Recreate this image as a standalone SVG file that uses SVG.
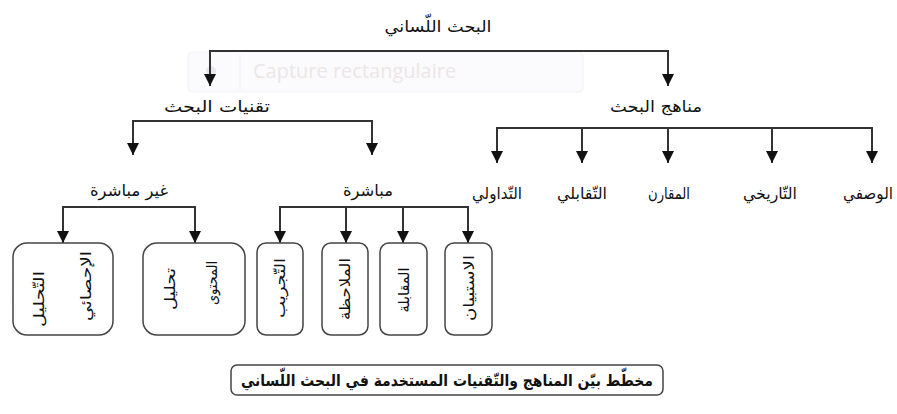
<svg xmlns="http://www.w3.org/2000/svg" width="897" height="414" viewBox="0 0 897 414">
<defs>
<marker id="ah" viewBox="0 0 12 12" refX="12" refY="6" markerWidth="12" markerHeight="12" markerUnits="userSpaceOnUse" orient="auto">
<path d="M0,0 L12,6 L0,12 z" fill="#111"/>
</marker>
<style>
.t{font-family:"DejaVu Sans",sans-serif;font-size:16px;fill:#111;text-anchor:middle;direction:rtl}
.v{font-family:"DejaVu Sans",sans-serif;font-size:15px;fill:#111;text-anchor:middle;dominant-baseline:central;direction:rtl}
.c{fill:none;stroke:#333;stroke-width:2;marker-end:url(#ah)}
.box{fill:#fff;stroke:#444;stroke-width:1.5}
</style>
</defs>
<rect width="897" height="414" fill="#fff"/>
<g id="overlay" opacity="0.9">
<rect x="188" y="52" width="395" height="40" rx="4" fill="#fbfbfd" stroke="#f1f1f5" stroke-width="1"/>
<line x1="240" y1="54" x2="240" y2="90" stroke="#f1f1f5" stroke-width="1"/>
<circle cx="211" cy="71" r="5" fill="#e6e6ea"/>
<text x="253" y="78" font-family="'Open Sans',sans-serif" font-size="20" fill="#ebe4e4">Capture rectangulaire</text>
</g>
<g id="connectors">
<path class="c" d="M438,51 H210 V86"/>
<path class="c" d="M438,51 H668 V86"/>
<path class="c" d="M250,121 H133 V155"/>
<path class="c" d="M250,121 H372 V155"/>
<path class="c" d="M668,128 H497 V163"/>
<path class="c" d="M668,128 H582 V163"/>
<path class="c" d="M668,128 V163"/>
<path class="c" d="M668,128 H772 V163"/>
<path class="c" d="M668,128 H872 V163"/>
<path class="c" d="M129,207 H63 V243"/>
<path class="c" d="M129,207 H195 V243"/>
<path class="c" d="M346,207 H280 V243"/>
<path class="c" d="M346,207 V243"/>
<path class="c" d="M346,207 H403 V243"/>
<path class="c" d="M346,207 H468 V243"/>
</g>
<g id="root"><text class="t" x="438" y="32" font-size="17" textLength="107" lengthAdjust="spacingAndGlyphs">البحث اللّساني</text></g>
<g id="techniques"><text class="t" x="217" y="112" textLength="106" lengthAdjust="spacingAndGlyphs">تقنيات البحث</text></g>
<g id="methods"><text class="t" x="656" y="112" textLength="92" lengthAdjust="spacingAndGlyphs">مناهج البحث</text></g>
<g id="indirect"><text class="t" x="129" y="196" textLength="78" lengthAdjust="spacingAndGlyphs">غير مباشرة</text></g>
<g id="direct"><text class="t" x="368" y="196" textLength="50" lengthAdjust="spacingAndGlyphs">مباشرة</text></g>
<g id="m1"><text class="t" x="497" y="199" textLength="50" lengthAdjust="spacingAndGlyphs">التّداولي</text></g>
<g id="m2"><text class="t" x="582" y="199" textLength="50" lengthAdjust="spacingAndGlyphs">التّقابلي</text></g>
<g id="m3"><text class="t" x="669" y="199" textLength="42" lengthAdjust="spacingAndGlyphs">المقارن</text></g>
<g id="m4"><text class="t" x="770" y="199" textLength="54" lengthAdjust="spacingAndGlyphs">التّاريخي</text></g>
<g id="m5"><text class="t" x="868" y="199" textLength="50" lengthAdjust="spacingAndGlyphs">الوصفي</text></g>
<g id="b1"><rect class="box" x="13" y="243" width="100" height="92" rx="14"/>
<text class="v" transform="translate(39,299) rotate(-90)" textLength="56" lengthAdjust="spacingAndGlyphs">التّحليل</text>
<text class="v" transform="translate(86,286) rotate(-90)" textLength="70" lengthAdjust="spacingAndGlyphs">الإحصائي</text></g>
<g id="b2"><rect class="box" x="143" y="243" width="102" height="92" rx="14"/>
<text class="v" transform="translate(170,289) rotate(-90)" textLength="42" lengthAdjust="spacingAndGlyphs">تحليل</text>
<text class="v" transform="translate(212,283) rotate(-90)" textLength="44" lengthAdjust="spacingAndGlyphs">المحتوى</text></g>
<g id="b3"><rect class="box" x="257" y="243" width="46" height="92" rx="9"/>
<text class="v" transform="translate(280,288) rotate(-90)" textLength="60" lengthAdjust="spacingAndGlyphs">التّجريب</text></g>
<g id="b4"><rect class="box" x="322" y="243" width="46" height="92" rx="9"/>
<text class="v" transform="translate(345,289) rotate(-90)" textLength="62" lengthAdjust="spacingAndGlyphs">الملاحظة</text></g>
<g id="b5"><rect class="box" x="380" y="243" width="47" height="92" rx="9"/>
<text class="v" transform="translate(404,290) rotate(-90)" textLength="45" lengthAdjust="spacingAndGlyphs">المقابلة</text></g>
<g id="b6"><rect class="box" x="445" y="243" width="47" height="92" rx="9"/>
<text class="v" transform="translate(469,288) rotate(-90)" textLength="66" lengthAdjust="spacingAndGlyphs">الاستبيان</text></g>
<g id="caption"><rect class="box" x="231" y="365" width="432" height="30" rx="6"/>
<text class="t" x="447" y="386" font-weight="bold" font-size="15" textLength="412" lengthAdjust="spacingAndGlyphs">مخطّط بيّن المناهج والتّقنيات المستخدمة في البحث اللّساني</text></g>
</svg>
